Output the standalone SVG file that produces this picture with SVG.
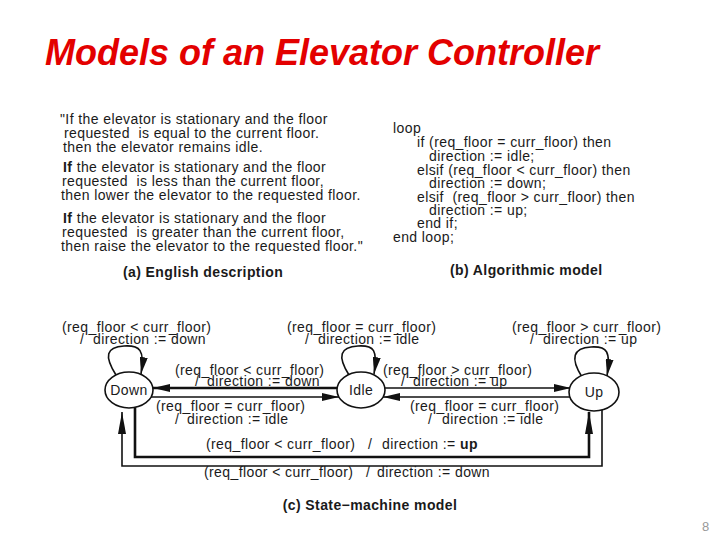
<svg xmlns="http://www.w3.org/2000/svg" width="720" height="540" viewBox="0 0 720 540">
<style>
text{font-family:"Liberation Sans",Arial,sans-serif;font-size:14px;letter-spacing:0.4px;fill:#1a1a1a}
.b{font-weight:bold}
.title{font-size:36px;letter-spacing:0;font-weight:bold;font-style:italic;fill:#e30000}
.pg{font-size:13px;fill:#999}
.node ellipse{fill:#fff;stroke:#111;stroke-width:1.6}
.node text{text-anchor:middle}
.e{fill:none;stroke:#111;stroke-width:1.6}
.k{stroke-width:2.6}
</style>
<defs>
<marker id="ah" viewBox="0 0 17 8" refX="17" refY="4" markerWidth="17" markerHeight="8" markerUnits="userSpaceOnUse" orient="auto"><path d="M0,0 L17,4 L0,8 z" fill="#111"/></marker>
<marker id="ahl" viewBox="0 0 22 8" refX="22" refY="4" markerWidth="22" markerHeight="8" markerUnits="userSpaceOnUse" orient="auto"><path d="M0,0 L22,4 L0,8 z" fill="#111"/></marker>
</defs>
<rect width="720" height="540" fill="#fff"/>
<text class="title" x="45" y="65">Models of an Elevator Controller</text>
<g id="english">
<text x="60" y="124">"If the elevator is stationary and the floor</text>
<text x="64" y="138">requested&#160; is equal to the current floor.</text>
<text x="63" y="152">then the elevator remains idle.</text>
<text x="63" y="172"><tspan class="b">If</tspan> the elevator is stationary and the floor</text>
<text x="62" y="186">requested&#160; is less than the current floor,</text>
<text x="61" y="200">then lower the elevator to the requested floor.</text>
<text x="63" y="223"><tspan class="b">If</tspan> the elevator is stationary and the floor</text>
<text x="62" y="237">requested&#160; is greater than the current floor,</text>
<text x="61" y="251">then raise the elevator to the requested floor."</text>
<text class="b" x="123" y="277">(a) English description</text>
</g>
<g id="algorithm">
<text x="393" y="133">loop</text>
<text x="417" y="147">if (req_floor = curr_floor) then</text>
<text x="429" y="161">direction := idle;</text>
<text x="417" y="175">elsif (req_floor &lt; curr_floor) then</text>
<text x="429" y="188">direction := down;</text>
<text x="417" y="202">elsif&#160; (req_floor &gt; curr_floor) then</text>
<text x="429" y="215">direction := up;</text>
<text x="417" y="228">end if;</text>
<text x="393" y="242">end loop;</text>
<text class="b" x="450" y="275">(b) Algorithmic model</text>
</g>
<g id="connectors">
<path class="e" d="M116,375 C104,356 106,347 124,346 C140,345 145,350 141,374" marker-end="url(#ah)"/>
<path class="e" d="M349,375 C337,356 340,347 358,346 C374,345 378,350 374,374" marker-end="url(#ah)"/>
<path class="e" d="M582,377 C570,358 573,348 591,347 C607,346 611,351 607,376" marker-end="url(#ah)"/>
<path class="e k" d="M337,388 L153,388" marker-end="url(#ah)"/>
<path class="e" d="M151,397 L339,397" marker-end="url(#ah)"/>
<path class="e" d="M385,388 L571,388" marker-end="url(#ah)"/>
<path class="e" d="M571,397 L383,397" marker-end="url(#ah)"/>
<path class="e k" d="M135,407 L135,457 L589,457 L589,412" marker-end="url(#ahl)"/>
<path class="e" d="M602,410 L602,466 L122,466 L122,412" marker-end="url(#ahl)"/>
<text x="62" y="332">(req_floor &lt; curr_floor)</text>
<text y="344"><tspan x="80">/</tspan><tspan x="93">direction := down</tspan></text>
<text x="287" y="332">(req_floor = curr_floor)</text>
<text y="344"><tspan x="305">/</tspan><tspan x="318">direction := idle</tspan></text>
<text x="512" y="332">(req_floor &gt; curr_floor)</text>
<text y="344"><tspan x="530">/</tspan><tspan x="543">direction := up</tspan></text>
<text x="175" y="375">(req_floor &lt; curr_floor)</text>
<text y="386"><tspan x="195">/</tspan><tspan x="207">direction := down</tspan></text>
<text x="383" y="375">(req_floor &gt; curr_floor)</text>
<text y="386"><tspan x="401">/</tspan><tspan x="413">direction := up</tspan></text>
<text x="156" y="411">(req_floor = curr_floor)</text>
<text y="424"><tspan x="175">/</tspan><tspan x="187">direction := idle</tspan></text>
<text x="410" y="411">(req_floor = curr_floor)</text>
<text y="424"><tspan x="428">/</tspan><tspan x="442">direction := idle</tspan></text>
<text y="449"><tspan x="206">(req_floor &lt; curr_floor)</tspan><tspan x="368">/</tspan><tspan x="382">direction := </tspan><tspan class="b">up</tspan></text>
<text y="477"><tspan x="204">(req_floor &lt; curr_floor)</tspan><tspan x="366">/</tspan><tspan x="377">direction := down</tspan></text>
</g>
<g id="down" class="node"><ellipse cx="129" cy="390" rx="24" ry="18"/><text x="129" y="395">Down</text></g>
<g id="idle" class="node"><ellipse cx="361" cy="390" rx="24" ry="18"/><text x="361" y="395">Idle</text></g>
<g id="up" class="node"><ellipse cx="594" cy="392" rx="25" ry="19"/><text x="594" y="397">Up</text></g>
<text class="b" x="370" y="510" text-anchor="middle">(c) State−machine model</text>
<text class="pg" x="702" y="531">8</text>
</svg>
